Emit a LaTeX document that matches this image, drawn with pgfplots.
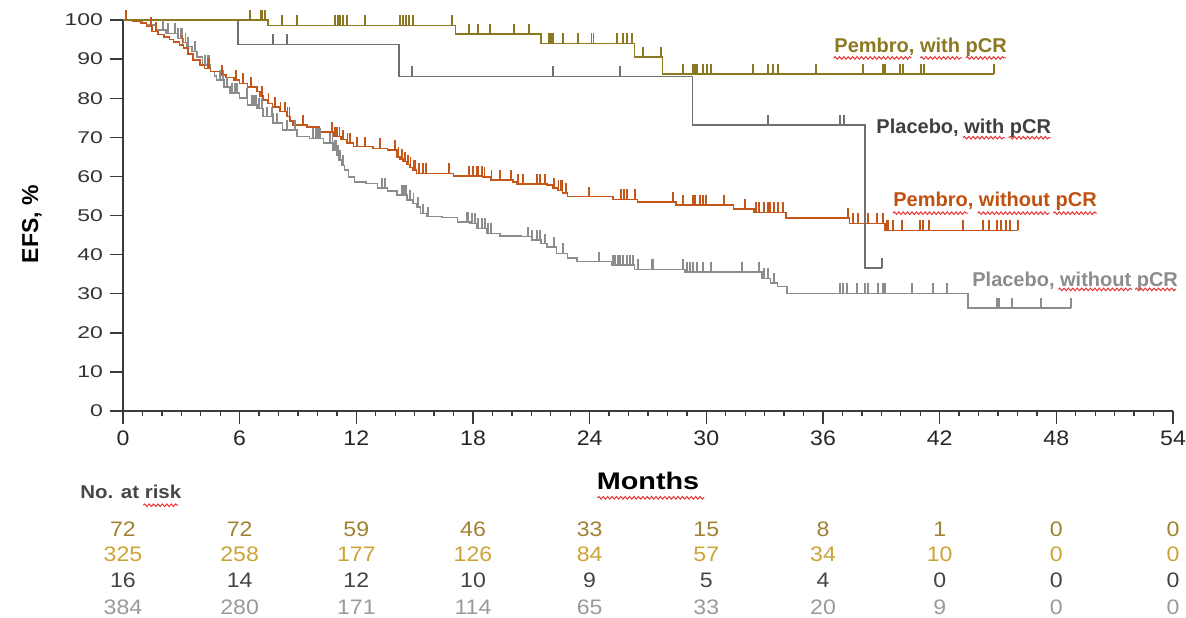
\documentclass[border=0pt]{standalone}
\usepackage{pgfplots}
\usepackage{pgfplotstable}
\pgfplotsset{compat=1.18}
\usetikzlibrary{decorations.pathmorphing}
\usepackage{fontspec}
\setmainfont{Liberation Sans}
\newfontfamily\numfont{Liberation Sans}[FakeStretch=1.1]
\newfontfamily\yfont{Liberation Sans}[FakeStretch=1.35]
\newfontfamily\wfont{Liberation Sans}[FakeStretch=1.2]

\definecolor{pemW}{HTML}{8B7820}
\definecolor{plaW}{HTML}{707070}
\definecolor{plaWtxt}{HTML}{3F3F3F}
\definecolor{pemN}{HTML}{C5561A}
\definecolor{pemNtxt}{HTML}{C0500F}
\definecolor{plaN}{HTML}{8C8C8C}
\definecolor{risk1}{HTML}{A08232}
\definecolor{risk2}{HTML}{CCA436}
\definecolor{risk3}{HTML}{444444}
\definecolor{risk4}{HTML}{9A9A9A}
\definecolor{axisgray}{HTML}{3A3A3A}
\definecolor{squig}{HTML}{E83434}

% censoring tick: a short stroke pointing up from the curve
\pgfdeclareplotmark{cens}{%
  \pgfpathmoveto{\pgfpointorigin}%
  \pgfpathlineto{\pgfpoint{0pt}{\pgfplotmarksize}}%
  \pgfusepathqstroke}

% Kaplan-Meier estimates: t = months, s = EFS %, c = 1 for a censored patient
\pgfplotstableread{
t s c
0 100 0
6.53 100 1
7.10 100 1
7.18 100 1
7.26 100 1
7.34 100 1
7.46 98.6 0
8.18 98.6 1
8.95 98.6 1
10.9 98.6 1
11.06 98.6 1
11.16 98.6 1
11.31 98.6 1
11.52 98.6 1
12.45 98.6 1
14.25 98.6 1
14.4 98.6 1
14.55 98.6 1
14.71 98.6 1
14.91 98.6 1
16.92 98.6 1
17.1 96.4 0
17.79 96.4 1
18.26 96.4 1
18.87 96.4 1
20.11 96.4 1
20.88 96.4 1
21.5 94.0 0
21.91 94.0 1
21.98 94.0 1
22.07 94.0 1
22.12 94.0 1
22.63 94.0 1
23.4 94.0 1
24.1 94.0 1
24.2 94.0 1
25.41 94.0 1
25.72 94.0 1
25.92 94.0 1
26.15 94.0 1
26.22 94.0 1
26.3 90.5 0
26.74 90.5 1
27.67 90.5 1
27.75 86.2 0
28.8 86.2 1
29.32 86.2 1
29.42 86.2 1
29.52 86.2 1
29.83 86.2 1
30.03 86.2 1
30.24 86.2 1
32.4 86.2 1
33.17 86.2 1
33.43 86.2 1
33.69 86.2 1
35.64 86.2 1
38.06 86.2 1
39.09 86.2 1
39.19 86.2 1
39.96 86.2 1
40.12 86.2 1
41.04 86.2 1
41.2 86.2 1
44.8 86.2 1
}\pembroWith

\pgfplotstableread{
t s c
0 100 0
5.91 93.75 0
7.71 93.75 1
8.43 93.75 1
14.2 85.6 0
14.86 85.6 1
22.11 85.6 1
25.56 85.6 1
29.3 73.2 0
33.17 73.2 1
36.88 73.2 1
37.08 73.2 1
38.16 36.6 0
39.03 36.6 1
}\placeboWith

\pgfplotstableread{
t s c
0 100 0
0.15 100 1
0.5 99.7 0
0.9 99.2 0
1.2 98.3 0
1.44 98.3 1
1.5 97.0 0
1.70 97.0 1
1.8 96.3 0
2.1 95.7 0
2.4 95.0 0
2.6 94.4 0
2.9 93.6 0
3.05 93.6 1
3.1 92.8 0
3.35 91.3 0
3.6 89.8 0
3.95 88.5 0
4.2 87.6 0
4.37 87.6 1
4.45 87.6 1
4.5 86.8 0
5.0 85.9 0
5.09 85.9 1
5.3 85.3 0
5.7 84.7 0
5.81 84.7 1
6.0 83.8 0
6.17 83.8 1
6.4 82.9 0
6.58 82.9 1
6.9 81.7 0
7.05 80.6 0
7.15 80.6 1
7.2 79.5 0
7.45 78.7 0
7.5 78.7 1
7.7 77.8 0
7.82 77.8 1
8.05 76.6 0
8.1 76.6 1
8.33 76.6 1
8.4 75.3 0
8.45 75.3 1
8.57 75.3 1
8.6 74.2 0
8.75 73.1 0
9.26 73.1 1
9.45 72.7 0
10.1 71.4 0
10.75 71.4 1
10.8 70.2 0
10.9 70.2 1
11.0 70.2 1
11.15 70.2 1
11.2 69.4 0
11.31 69.4 1
11.5 68.5 0
11.55 68.5 1
11.68 68.5 1
11.85 67.6 0
12.03 67.6 1
12.45 67.6 1
12.85 67.2 0
13.22 67.2 1
13.6 66.8 0
13.99 66.8 1
14.1 65.0 0
14.17 65.0 1
14.25 64.4 0
14.35 64.4 1
14.4 63.8 0
14.5 63.8 1
14.6 63.0 0
14.65 63.0 1
14.75 62.3 0
14.8 62.3 1
14.9 61.6 0
14.95 61.6 1
15.02 61.6 1
15.1 60.8 0
15.22 60.8 1
15.43 60.8 1
15.58 60.8 1
16.77 60.8 1
17.0 60.1 0
17.79 60.1 1
18.0 60.1 1
18.21 60.1 1
18.3 60.1 1
18.46 60.1 1
18.5 59.8 0
18.6 59.8 1
18.9 59.1 0
18.95 59.1 1
19.39 59.1 1
19.95 59.1 1
20.05 58.6 0
20.25 58.1 0
20.31 58.1 1
20.57 58.1 1
21.29 58.1 1
21.45 58.1 1
21.7 58.1 1
21.8 57.8 0
22.1 57.0 0
22.17 57.0 1
22.35 56.4 0
22.4 56.4 1
22.5 56.4 1
22.58 56.4 1
22.6 55.7 0
22.78 55.7 1
22.85 54.8 0
23.97 54.8 1
25.2 54.1 0
25.61 54.1 1
25.77 54.1 1
25.92 54.1 1
26.33 54.1 1
26.45 53.4 0
28.29 53.4 1
28.45 52.7 0
28.8 52.7 1
29.32 52.7 1
29.42 52.7 1
29.68 52.7 1
29.83 52.7 1
29.98 52.7 1
30.91 52.7 1
31.4 51.7 0
31.99 51.7 1
32.45 50.8 0
32.55 50.8 1
32.71 50.8 1
32.97 50.8 1
33.17 50.8 1
33.28 50.8 1
33.48 50.8 1
33.69 50.8 1
33.94 50.8 1
34.1 49.3 0
37.29 49.3 1
37.35 48.0 0
37.54 48.0 1
37.8 48.0 1
38.32 48.0 1
38.78 48.0 1
39.09 48.0 1
39.2 46.2 0
39.25 46.2 1
39.35 46.2 1
39.6 46.2 1
40.06 46.2 1
40.99 46.2 1
41.14 46.2 1
41.45 46.2 1
43.2 46.2 1
44.23 46.2 1
44.54 46.2 1
44.95 46.2 1
45.15 46.2 1
45.41 46.2 1
45.62 46.2 1
46.03 46.2 1
}\pembroWithout

\pgfplotstableread{
t s c
0 100 0
0.5 99.7 0
1.0 99.2 0
1.2 98.7 0
1.7 97.4 0
2.06 97.4 1
2.2 96.6 0
2.31 96.6 1
2.67 96.6 1
2.8 95.3 0
2.83 95.3 1
2.98 95.3 1
3.05 95.3 1
3.1 94.2 0
3.2 94.2 1
3.3 93.2 0
3.34 93.2 1
3.55 92.0 0
3.7 92.0 1
3.8 90.6 0
4.1 88.5 0
4.22 88.5 1
4.37 88.5 1
4.45 88.5 1
4.5 86.8 0
4.7 85.7 0
4.8 84.7 0
4.99 84.7 1
5.14 84.7 1
5.2 82.9 0
5.35 82.9 1
5.5 81.3 0
5.61 81.3 1
5.76 81.3 1
5.86 81.3 1
6.0 80.0 0
6.38 80.0 1
6.4 78.3 0
6.63 78.3 1
6.69 78.3 1
6.79 78.3 1
6.87 78.3 1
6.9 77.4 0
7.0 77.4 1
7.15 77.4 1
7.2 75.3 0
7.41 75.3 1
7.66 75.3 1
7.7 73.6 0
7.75 73.6 1
7.92 73.6 1
8.2 71.9 0
8.43 71.9 1
8.85 71.9 1
8.95 70.2 0
9.6 69.7 0
9.77 69.7 1
9.93 69.7 1
10.03 69.7 1
10.13 69.7 1
10.3 68.5 0
10.65 68.5 1
10.77 68.5 1
10.8 66.8 0
10.9 66.8 1
10.95 66.8 1
11.0 65.5 0
11.05 65.5 1
11.1 64.2 0
11.16 64.2 1
11.25 62.8 0
11.28 62.8 1
11.33 62.8 1
11.4 61.6 0
11.6 59.9 0
11.9 58.6 0
12.5 58.2 0
13.1 57.0 0
13.32 57.0 1
13.47 57.0 1
13.6 56.3 0
14.1 55.2 0
14.35 55.2 1
14.45 55.2 1
14.55 55.2 1
14.6 54.0 0
14.76 54.0 1
14.9 53.1 0
14.95 53.1 1
15.1 52.2 0
15.17 52.2 1
15.3 50.5 0
15.43 50.5 1
15.6 49.7 0
15.69 49.7 1
16.4 49.5 0
17.2 48.4 0
17.69 48.4 1
17.74 48.4 1
17.85 48.0 0
17.95 48.0 1
18.1 48.0 1
18.2 46.7 0
18.26 46.7 1
18.46 46.7 1
18.62 46.7 1
18.7 45.4 0
18.77 45.4 1
18.93 45.4 1
19.4 44.8 0
20.5 44.6 0
20.83 44.6 1
21.0 43.7 0
21.03 43.7 1
21.29 43.7 1
21.45 43.7 1
21.5 42.8 0
21.7 42.8 1
21.8 42.0 0
22.17 42.0 1
22.3 40.3 0
22.63 40.3 1
22.85 39.1 0
23.35 38.2 0
24.48 38.2 1
25.15 37.3 0
25.2 37.3 1
25.3 37.3 1
25.46 37.3 1
25.56 37.3 1
25.72 37.3 1
25.92 37.3 1
26.07 37.3 1
26.23 37.3 1
26.3 36.2 0
26.49 36.2 1
27.21 36.2 1
27.26 36.2 1
28.8 36.2 1
28.9 35.6 0
29.01 35.6 1
29.16 35.6 1
29.32 35.6 1
29.52 35.6 1
29.83 35.6 1
30.24 35.6 1
31.83 35.6 1
32.71 35.6 1
32.85 33.9 0
32.97 33.9 1
33.17 33.9 1
33.3 32.7 0
33.48 32.7 1
33.65 31.8 0
34.15 30.1 0
36.88 30.1 1
37.03 30.1 1
37.23 30.1 1
37.75 30.1 1
38.16 30.1 1
38.32 30.1 1
38.83 30.1 1
39.09 30.1 1
39.19 30.1 1
40.58 30.1 1
41.66 30.1 1
42.38 30.1 1
43.45 26.3 0
44.95 26.3 1
45.05 26.3 1
45.72 26.3 1
47.21 26.3 1
48.75 26.3 1
}\placeboWithout

\pgfplotsset{
  km/.style={const plot, mark=none, line width=0.75pt},
  cens/.style={only marks, mark=cens, mark size=5pt,
    mark options={line width=0.65pt},
    restrict expr to domain={\thisrow{c}}{1:1}},
}

\begin{document}
\begin{tikzpicture}[
  risk/.style={font=\numfont\fontsize{10.5}{12}\selectfont, anchor=center, inner sep=0pt},
  curvelab/.style={font=\bfseries\fontsize{10}{12}\selectfont, anchor=west, inner sep=0pt},
  wavy/.style={squig, line width=0.5pt, decorate,
    decoration={snake, amplitude=0.65pt, segment length=2.2pt}}]
% page frame
\path[use as bounding box] (-61.5pt,-103pt) rectangle (531.5pt,205.5pt);
\begin{axis}[
  at={(0pt,0pt)}, anchor=south west,
  scale only axis, width=525pt, height=195.5pt,
  xmin=0, xmax=54, ymin=0, ymax=100,
  axis lines=left, axis line style={-, axisgray, line width=0.7pt},
  xtick={0,6,...,54}, minor x tick num=5,
  ytick={0,10,...,100},
  tick align=outside, major tick length=6.5pt, minor tick length=2.5pt,
  every tick/.style={axisgray, line width=0.7pt},
  /pgf/number format/assume math mode=true,
  xticklabel style={font=\numfont\fontsize{10.5}{12}\selectfont, text=black!85},
  yticklabel style={font=\yfont\fontsize{8.5}{10}\selectfont, text=black!80},
  xlabel={Months},
  xlabel style={at={(axis description cs:0.5,0)}, anchor=center, yshift=-35pt,
    font=\wfont\bfseries\fontsize{12}{14}\selectfont},
  ylabel={EFS, \%},
  ylabel style={at={(axis description cs:-0.0867,0.478)}, anchor=center,
    font=\bfseries\fontsize{11.5}{13}\selectfont},
  clip=false,
]
\addplot[km, plaN] table[x=t, y=s] {\placeboWithout};
\addplot[cens, plaN] table[x=t, y=s] {\placeboWithout};
\addplot[km, pemN] table[x=t, y=s] {\pembroWithout};
\addplot[cens, pemN] table[x=t, y=s] {\pembroWithout};
\addplot[km, plaW] table[x=t, y=s] {\placeboWith};
\addplot[cens, plaW] table[x=t, y=s] {\placeboWith};
\addplot[km, pemW] table[x=t, y=s] {\pembroWith};
\addplot[cens, pemW] table[x=t, y=s] {\pembroWith};

% curve labels
\node[curvelab, text=pemW] at (axis cs:36.57,93.1) {Pembro, with pCR};
\node[curvelab, text=plaWtxt] at (axis cs:38.73,72.4) {Placebo, with pCR};
\node[curvelab, text=pemNtxt] at (axis cs:39.6,53.7) {Pembro, without pCR};
\node[curvelab, text=plaN] at (axis cs:43.66,33.2) {Placebo, without pCR};

% spell-check underlines
\draw[wavy] (axis cs:36.55,90.3) -- (axis cs:40.55,90.3);
\draw[wavy] (axis cs:41.0,90.3) -- (axis cs:43.15,90.3);
\draw[wavy] (axis cs:43.35,90.3) -- (axis cs:45.4,90.3);
\draw[wavy] (axis cs:43.2,69.9) -- (axis cs:45.35,69.9);
\draw[wavy] (axis cs:45.55,69.9) -- (axis cs:47.7,69.9);
\draw[wavy] (axis cs:39.6,50.6) -- (axis cs:43.45,50.6);
\draw[wavy] (axis cs:43.95,50.6) -- (axis cs:47.65,50.6);
\draw[wavy] (axis cs:47.85,50.6) -- (axis cs:50.1,50.6);
\draw[wavy] (axis cs:48.1,31.1) -- (axis cs:51.9,31.1);
\draw[wavy] (axis cs:52.05,31.1) -- (axis cs:54.15,31.1);
\draw[wavy] (axis cs:24.4,-22.2) -- (axis cs:29.9,-22.2);
\draw[wavy] (axis cs:1.05,-24.1) -- (axis cs:2.85,-24.1);

% number at risk
\node[anchor=west, inner sep=0pt, text=black!72, font=\numfont\bfseries\fontsize{9.3}{11}\selectfont] at (axis cs:-2.21,-20.7) {No. at risk};
\node[risk, text=risk1] at (axis cs:0,-30.2) {72};
\node[risk, text=risk1] at (axis cs:6,-30.2) {72};
\node[risk, text=risk1] at (axis cs:12,-30.2) {59};
\node[risk, text=risk1] at (axis cs:18,-30.2) {46};
\node[risk, text=risk1] at (axis cs:24,-30.2) {33};
\node[risk, text=risk1] at (axis cs:30,-30.2) {15};
\node[risk, text=risk1] at (axis cs:36,-30.2) {8};
\node[risk, text=risk1] at (axis cs:42,-30.2) {1};
\node[risk, text=risk1] at (axis cs:48,-30.2) {0};
\node[risk, text=risk1] at (axis cs:54,-30.2) {0};
\node[risk, text=risk2] at (axis cs:0,-36.6) {325};
\node[risk, text=risk2] at (axis cs:6,-36.6) {258};
\node[risk, text=risk2] at (axis cs:12,-36.6) {177};
\node[risk, text=risk2] at (axis cs:18,-36.6) {126};
\node[risk, text=risk2] at (axis cs:24,-36.6) {84};
\node[risk, text=risk2] at (axis cs:30,-36.6) {57};
\node[risk, text=risk2] at (axis cs:36,-36.6) {34};
\node[risk, text=risk2] at (axis cs:42,-36.6) {10};
\node[risk, text=risk2] at (axis cs:48,-36.6) {0};
\node[risk, text=risk2] at (axis cs:54,-36.6) {0};
\node[risk, text=risk3] at (axis cs:0,-43.2) {16};
\node[risk, text=risk3] at (axis cs:6,-43.2) {14};
\node[risk, text=risk3] at (axis cs:12,-43.2) {12};
\node[risk, text=risk3] at (axis cs:18,-43.2) {10};
\node[risk, text=risk3] at (axis cs:24,-43.2) {9};
\node[risk, text=risk3] at (axis cs:30,-43.2) {5};
\node[risk, text=risk3] at (axis cs:36,-43.2) {4};
\node[risk, text=risk3] at (axis cs:42,-43.2) {0};
\node[risk, text=risk3] at (axis cs:48,-43.2) {0};
\node[risk, text=risk3] at (axis cs:54,-43.2) {0};
\node[risk, text=risk4] at (axis cs:0,-50.3) {384};
\node[risk, text=risk4] at (axis cs:6,-50.3) {280};
\node[risk, text=risk4] at (axis cs:12,-50.3) {171};
\node[risk, text=risk4] at (axis cs:18,-50.3) {114};
\node[risk, text=risk4] at (axis cs:24,-50.3) {65};
\node[risk, text=risk4] at (axis cs:30,-50.3) {33};
\node[risk, text=risk4] at (axis cs:36,-50.3) {20};
\node[risk, text=risk4] at (axis cs:42,-50.3) {9};
\node[risk, text=risk4] at (axis cs:48,-50.3) {0};
\node[risk, text=risk4] at (axis cs:54,-50.3) {0};
\end{axis}
\end{tikzpicture}
\end{document}
